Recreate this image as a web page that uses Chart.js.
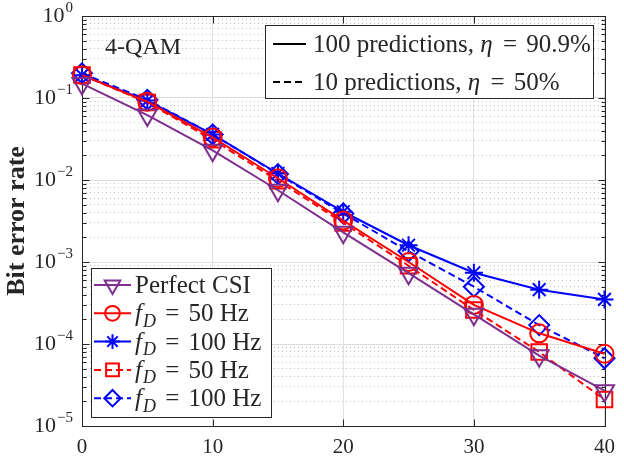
<!DOCTYPE html>
<html>
<head>
<meta charset="utf-8">
<script src="https://cdn.jsdelivr.net/npm/chart.js@4/dist/chart.umd.min.js"></script>
<style>
  html, body { margin: 0; padding: 0; background: #fff; }
  #wrap { width: 624px; height: 462px; }
</style>
</head>
<body>
<div id="wrap"><canvas id="ber"></canvas></div>
<script>
'use strict';

/* ── Data: SNR (dB) vs. bit error rate ── */
const SNR_DB        = [0, 5, 10, 15, 20, 25, 30, 35, 40];
const BER_PERFECT   = [0.15, 0.062, 0.023, 0.0075, 0.0023, 7.3e-4, 2.3e-4, 7.2e-5, 2.7e-5];
const BER_50_LONG   = [0.19, 0.090, 0.033, 0.0105, 0.0032, 1.0e-3, 3.0e-4, 1.35e-4, 7.6e-5];
const BER_100_LONG  = [0.19, 0.093, 0.036, 0.0120, 0.0041, 1.6e-3, 7.4e-4, 4.6e-4, 3.5e-4];
const BER_50_SHORT  = [0.19, 0.088, 0.031, 0.0098, 0.0030, 9.0e-4, 2.6e-4, 8.0e-5, 2.1e-5];
const BER_100_SHORT = [0.20, 0.095, 0.036, 0.0118, 0.0039, 1.35e-3, 5.0e-4, 1.7e-4, 6.7e-5];

const X_TICKS     = [0, 10, 20, 30, 40];
const Y_DECADES   = [0, -1, -2, -3, -4, -5];
const SERIES_LABELS = ['Perfect CSI', 'f_D = 50 Hz', 'f_D = 100 Hz', 'f_D = 50 Hz', 'f_D = 100 Hz'];
const STYLE_LABELS  = ['100 predictions, η = 90.9%', '10 predictions, η = 50%'];
const MOD_LABEL     = '4-QAM';
const Y_TITLE       = 'Bit error rate';

/* ── Look ── */
const FONT   = '"Liberation Serif", "Times New Roman", serif';
const INK    = '#262626';
const PURPLE = '#7E2F8E';
const RED    = '#FF0000';
const BLUE   = '#0000FF';
const DASH   = [7, 4];

const series = (label, values, color, style, radius, dashed, rotation = 0) => ({
  label,
  data: SNR_DB.map((x, i) => ({ x, y: values[i] })),
  borderColor: color,
  backgroundColor: 'rgba(0,0,0,0)',
  borderWidth: 2,
  borderDash: dashed ? DASH : [],
  pointStyle: style,
  pointRadius: radius,
  pointRotation: rotation,
  pointBorderWidth: 2,
  pointBorderColor: color,
  pointBackgroundColor: 'rgba(0,0,0,0)',
  tension: 0,
  clip: false,
});

const datasets = [
  series(SERIES_LABELS[0], BER_PERFECT,   PURPLE, 'triangle', 11, false, 180),
  series(SERIES_LABELS[1], BER_50_LONG,   RED,    'circle',    9, false),
  series(SERIES_LABELS[2], BER_100_LONG,  BLUE,   'star',      9, false),
  series(SERIES_LABELS[3], BER_50_SHORT,  RED,    'rect',     11, true),
  series(SERIES_LABELS[4], BER_100_SHORT, BLUE,   'rectRot',  10, true),
];

/* ── Rich text: "f_D" -> italic f with italic subscript D, η italic, roomy "=" ── */
const richParts = (s) => {
  const parts = [];
  let plain = '';
  const flush = () => { if (plain) { parts.push({ t: plain }); plain = ''; } };
  for (let i = 0; i < s.length; i++) {
    if (s[i + 1] === '_') {
      flush();
      parts.push({ t: s[i], it: true });
      parts.push({ t: s[i + 2], it: true, sub: true });
      i += 2;
    } else if (s[i] === 'η') {
      flush();
      parts.push({ t: s[i], it: true });
    } else if (s[i] === '=') {
      flush();
      parts.push({ t: '=', pad: 3 });
    } else {
      plain += s[i];
    }
  }
  flush();
  return parts;
};

const drawRich = (ctx, s, x, y, size) => {
  ctx.textAlign = 'left';
  ctx.textBaseline = 'alphabetic';
  richParts(s).forEach((p) => {
    const sz = p.sub ? Math.round(size * 0.7) : size;
    const pad = p.pad || 0;
    ctx.font = `${p.it ? 'italic ' : ''}${sz}px ${FONT}`;
    x += pad;
    ctx.fillText(p.t, x, p.sub ? y + size * 0.22 : y);
    x += ctx.measureText(p.t).width + pad + (p.it && !p.sub ? 1 : 0);
  });
};

/* ── Axes box, inward ticks and 10^n labels ── */
const axesBox = {
  id: 'axesBox',
  beforeDatasetsDraw(chart) {
    const { ctx, chartArea: a, scales } = chart;
    const L = Math.round(a.left) + 0.5, R = Math.round(a.right) + 0.5;
    const T = Math.round(a.top) + 0.5, B = Math.round(a.bottom) + 0.5;
    ctx.save();
    ctx.strokeStyle = INK;
    ctx.lineWidth = 1;
    ctx.beginPath();
    scales.y.ticks.forEach((t) => {
      const py = Math.round(scales.y.getPixelForValue(t.value)) + 0.5;
      const len = t.major ? 7 : 4;
      ctx.moveTo(L, py); ctx.lineTo(L + len, py);
      ctx.moveTo(R, py); ctx.lineTo(R - len, py);
    });
    X_TICKS.forEach((v) => {
      const px = Math.round(scales.x.getPixelForValue(v)) + 0.5;
      ctx.moveTo(px, B); ctx.lineTo(px, B - 7);
      ctx.moveTo(px, T); ctx.lineTo(px, T + 7);
    });
    ctx.stroke();
    ctx.strokeRect(L, T, R - L, B - T);

    ctx.fillStyle = INK;
    Y_DECADES.forEach((e) => {
      const py = scales.y.getPixelForValue(Math.pow(10, e));
      const sup = e === 0 ? '0' : '\u2212' + (-e);
      const right = a.left - 9;
      ctx.font = `15px ${FONT}`;
      const wSup = ctx.measureText(sup).width;
      ctx.textAlign = 'left';
      ctx.textBaseline = 'alphabetic';
      ctx.fillText(sup, right - wSup, py - 4);
      ctx.font = `22px ${FONT}`;
      ctx.textAlign = 'right';
      ctx.fillText('10', right - wSup - 1, py + 6);
    });
    ctx.restore();
  },

  /* legends and the modulation tag sit on top of the curves */
  afterDraw(chart) {
    const { ctx } = chart;
    const H = Chart.helpers;
    ctx.save();

    ctx.fillStyle = INK;
    ctx.font = `24px ${FONT}`;
    ctx.textAlign = 'left';
    ctx.textBaseline = 'alphabetic';
    ctx.fillText(MOD_LABEL, 105, 54);

    // curve legend (bottom left)
    ctx.fillStyle = '#fff';
    ctx.fillRect(91.5, 268.5, 180, 149);
    ctx.strokeStyle = INK;
    ctx.lineWidth = 1;
    ctx.strokeRect(91.5, 268.5, 180, 149);
    chart.data.datasets.forEach((ds, i) => {
      const y = 285 + i * 28.3;
      ctx.strokeStyle = ds.borderColor;
      ctx.lineWidth = 2;
      ctx.setLineDash(ds.borderDash);
      ctx.beginPath();
      ctx.moveTo(94, y); ctx.lineTo(131, y);
      ctx.stroke();
      ctx.setLineDash([]);
      ctx.fillStyle = 'rgba(0,0,0,0)';
      H.drawPoint(ctx, {
        pointStyle: ds.pointStyle,
        rotation: ds.pointRotation,
        radius: ds.pointRadius * 0.82,
        borderWidth: 2,
      }, 112.5, y);
      ctx.fillStyle = INK;
      drawRich(ctx, ds.label, 135, y + 8, 25);
    });

    // line-style legend (top right)
    ctx.fillStyle = '#fff';
    ctx.fillRect(265.5, 25.5, 328, 73);
    ctx.strokeStyle = INK;
    ctx.lineWidth = 1;
    ctx.strokeRect(265.5, 25.5, 328, 73);
    STYLE_LABELS.forEach((s, i) => {
      const y = 44 + i * 38;
      ctx.strokeStyle = '#000';
      ctx.lineWidth = 2;
      ctx.setLineDash(i === 0 ? [] : DASH);
      ctx.beginPath();
      ctx.moveTo(273, y); ctx.lineTo(306, y);
      ctx.stroke();
      ctx.setLineDash([]);
      ctx.fillStyle = INK;
      drawRich(ctx, s, 313, y + 8, 25);
    });
    ctx.restore();
  },
};

new Chart(document.getElementById('ber'), {
  type: 'line',
  data: { datasets },
  options: {
    responsive: true,
    maintainAspectRatio: false,
    animation: false,
    layout: { padding: { top: 16, right: 12, left: 0, bottom: 0 } },
    plugins: { legend: { display: false }, tooltip: { enabled: false } },
    scales: {
      x: {
        type: 'linear',
        min: 0, max: 40,
        afterBuildTicks: (s) => { s.ticks = X_TICKS.map((v) => ({ value: v })); },
        afterFit: (s) => { s.height = 36; },
        ticks: { color: INK, font: { family: FONT, size: 21 }, padding: 9, autoSkip: false, maxRotation: 0 },
        grid: { color: '#e0e0e0', drawTicks: false },
        border: { display: false },
      },
      y: {
        type: 'logarithmic',
        min: 1e-5, max: 1,
        afterBuildTicks: (s) => {
          const ticks = [];
          for (let e = -5; e <= 0; e++) {
            for (let m = 1; m <= 9; m++) {
              if (e === 0 && m > 1) break;
              ticks.push({ value: m * Math.pow(10, e), major: m === 1 });
            }
          }
          s.ticks = ticks;
        },
        afterFit: (s) => { s.width = 82; },
        ticks: { display: false, autoSkip: false },
        grid: {
          drawTicks: false,
          color: (c) => (c.tick && c.tick.major ? '#dedede' : 'rgba(38,38,38,0.28)'),
        },
        border: {
          display: false,
          dash: (c) => (c.tick && c.tick.major ? [] : [1, 3]),
        },
        title: {
          display: true,
          text: Y_TITLE,
          color: INK,
          font: { family: FONT, size: 26, weight: 'bold' },
          padding: { top: 2, bottom: 0 },
        },
      },
    },
  },
  plugins: [axesBox],
});
</script>
</body>
</html>
